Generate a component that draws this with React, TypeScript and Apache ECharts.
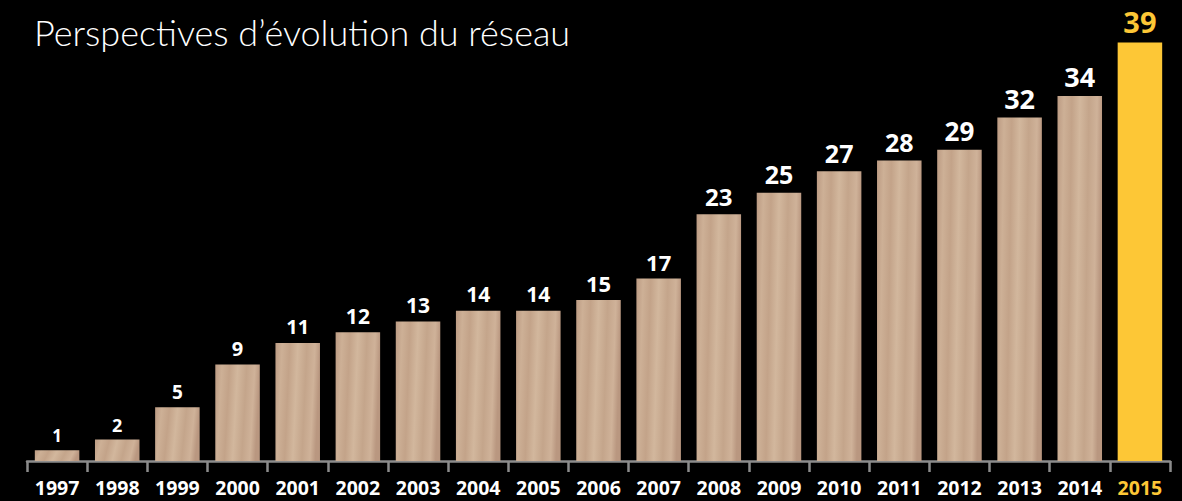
import React, { useEffect, useRef } from "react";
import * as echarts from "echarts";

const TITLE = "Perspectives d’évolution du réseau";
const years = ["1997","1998","1999","2000","2001","2002","2003","2004","2005","2006","2007","2008","2009","2010","2011","2012","2013","2014","2015"];
const values = [1, 2, 5, 9, 11, 12, 13, 14, 14, 15, 17, 23, 25, 27, 28, 29, 32, 34, 39];
const highlightYear = "2015";

const YELLOW = "#FDC736";
const wood = new echarts.graphic.LinearGradient(0, 0, 1, 0.12, [
  { offset: 0, color: "#bc9b83" },
  { offset: 0.15, color: "#cdb096" },
  { offset: 0.32, color: "#c3a389" },
  { offset: 0.5, color: "#d2b79d" },
  { offset: 0.7, color: "#c4a58b" },
  { offset: 0.88, color: "#cfb299" },
  { offset: 1, color: "#b99780" },
]);

export default function App() {
  const ref = useRef<HTMLDivElement>(null);
  useEffect(() => {
    if (!ref.current) return;
    const chart = echarts.init(ref.current, null, { renderer: "svg" });
    const font = "'Open Sans', 'Noto Sans', sans-serif";
    chart.setOption({
      animation: false,
      backgroundColor: "#000000",
      title: {
        text: TITLE,
        left: 29,
        top: 9,
        textStyle: { color: "#ffffff", fontSize: 36, fontWeight: 300, fontFamily: "Lato, 'Noto Sans', sans-serif" },
      },
      grid: { left: 27, right: 12, top: 21, bottom: 40, containLabel: false },
      xAxis: {
        type: "category",
        data: years.map((y) => ({
          value: y,
          textStyle: { color: y === highlightYear ? YELLOW : "#ffffff" },
        })),
        offset: 5,
        axisLine: { show: true, lineStyle: { color: "#8c8c8c", width: 2.5 } },
        axisTick: { show: true, length: 11, lineStyle: { color: "#8c8c8c", width: 2.5 } },
        axisLabel: { fontSize: 19.5, fontWeight: "bold", fontFamily: font, margin: 11, interval: 0 },
      },
      yAxis: { type: "value", min: 0, max: 41, show: false, splitLine: { show: false } },
      series: [
        {
          type: "bar",
          barCategoryGap: "26%",
          data: values.map((v, i) => {
            const hl = years[i] === highlightYear;
            return {
              value: v,
              itemStyle: { color: hl ? YELLOW : wood },
              label: {
                show: true,
                position: "top",
                distance: 6,
                color: hl ? YELLOW : "#ffffff",
                fontWeight: "bold",
                fontFamily: font,
                fontSize: Math.round(17 + v * 0.3),
              },
            };
          }),
        },
      ],
    });
    return () => chart.dispose();
  }, []);
  return <div ref={ref} style={{ width: 1182, height: 501, position: "absolute", left: 0, top: 0 }} />;
}
